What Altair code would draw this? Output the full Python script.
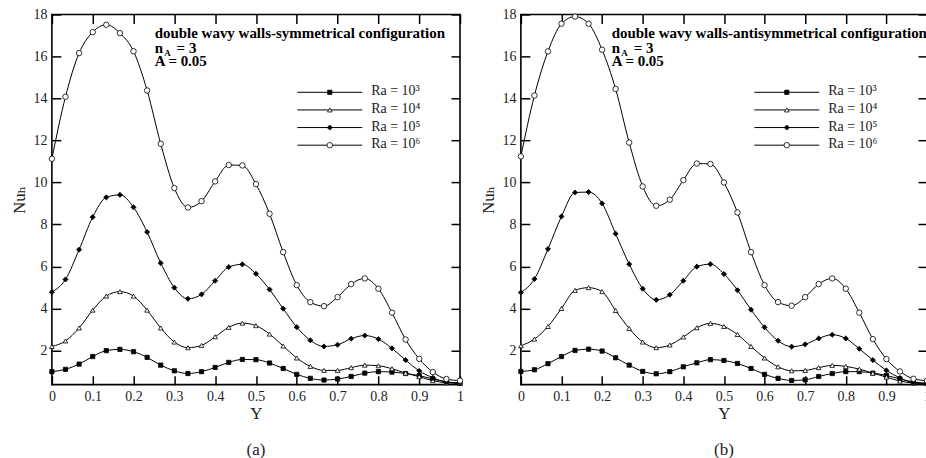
import altair as alt
import pandas as pd

Y_GRID = [0.0, 0.0333, 0.0667, 0.1, 0.1333, 0.1667, 0.2, 0.2333, 0.2667, 0.3, 0.3333,
          0.3667, 0.4, 0.4333, 0.4667, 0.5, 0.5333, 0.5667, 0.6, 0.6333, 0.6667,
          0.7, 0.7333, 0.7667, 0.8, 0.8333, 0.8667, 0.9, 0.9333, 0.9667, 1.0]

SERIES = ["Ra = 10³", "Ra = 10⁴", "Ra = 10⁵", "Ra = 10⁶"]

# (a) symmetrical configuration
a_ra3 = [0.99, 1.10, 1.35, 1.71, 1.99, 2.05, 1.94, 1.67, 1.30, 1.03, 0.90, 0.99, 1.19, 1.43, 1.57, 1.56,
         1.40, 1.14, 0.86, 0.67, 0.59, 0.64, 0.76, 0.92, 0.99, 0.97, 0.90, 0.80, 0.64, 0.50, 0.43]
a_ra4 = [2.19, 2.45, 3.07, 3.92, 4.59, 4.80, 4.59, 3.92, 3.07, 2.40, 2.13, 2.24, 2.65, 3.10, 3.30, 3.18,
         2.78, 2.21, 1.64, 1.24, 1.05, 1.05, 1.18, 1.30, 1.27, 1.13, 0.92, 0.75, 0.56, 0.46, 0.43]
a_ra5 = [4.78, 5.38, 6.80, 8.35, 9.29, 9.41, 8.82, 7.64, 6.16, 4.99, 4.46, 4.67, 5.32, 5.97, 6.10, 5.65,
         4.90, 3.99, 3.11, 2.48, 2.19, 2.27, 2.56, 2.71, 2.54, 2.10, 1.54, 1.03, 0.70, 0.50, 0.46]
a_ra6 = [11.13, 14.08, 16.16, 17.16, 17.51, 17.11, 16.25, 14.38, 11.84, 9.73, 8.81, 9.11, 10.05, 10.83,
         10.81, 9.92, 8.51, 6.68, 5.11, 4.30, 4.11, 4.54, 5.16, 5.43, 4.94, 3.80, 2.52, 1.60, 0.97, 0.64, 0.56]

# (b) antisymmetrical configuration
b_ra3 = [1.00, 1.08, 1.37, 1.71, 2.00, 2.06, 1.97, 1.65, 1.30, 1.00, 0.89, 0.99, 1.22, 1.41, 1.56, 1.52,
         1.38, 1.14, 0.86, 0.67, 0.57, 0.60, 0.76, 0.90, 0.99, 0.99, 0.92, 0.81, 0.64, 0.50, 0.43]
b_ra4 = [2.22, 2.54, 3.14, 4.00, 4.86, 4.99, 4.80, 3.90, 3.05, 2.40, 2.13, 2.26, 2.64, 3.08, 3.29, 3.14,
         2.76, 2.19, 1.64, 1.22, 1.03, 1.05, 1.18, 1.29, 1.24, 1.11, 0.92, 0.73, 0.54, 0.45, 0.42]
b_ra5 = [4.76, 5.40, 6.83, 8.38, 9.52, 9.54, 9.00, 7.56, 6.11, 4.94, 4.41, 4.65, 5.32, 5.99, 6.11, 5.64,
         4.87, 3.94, 3.10, 2.46, 2.18, 2.29, 2.57, 2.75, 2.57, 2.08, 1.54, 1.05, 0.69, 0.46, 0.43]
b_ra6 = [11.24, 14.14, 16.24, 17.56, 17.90, 17.56, 16.32, 14.45, 11.90, 9.81, 8.89, 9.18, 10.11, 10.90,
         10.88, 10.00, 8.57, 6.68, 5.11, 4.30, 4.13, 4.54, 5.16, 5.43, 4.94, 3.80, 2.54, 1.59, 1.00, 0.65, 0.56]

X_TICKS = [0, 0.1, 0.2, 0.3, 0.4, 0.5, 0.6, 0.7, 0.8, 0.9, 1]
Y_TICKS = [2, 4, 6, 8, 10, 12, 14, 16, 18]

FONT = "Times New Roman, Liberation Serif, DejaVu Serif, serif"
TXT = "#222222"

MARK_SHAPES = ["square", "triangle-up", "diamond", "circle"]
MARK_FILLS = ["black", "white", "black", "white"]
MARK_SIZES = [18, 30, 24, 52]

H = 371


def panel(values, heading, caption, width, nx):
    rows = []
    for name, vals in zip(SERIES, values):
        for y, nu in zip(Y_GRID, vals):
            rows.append({"Y": y, "Nu": nu, "series": name})
    df = pd.DataFrame(rows)
    base = alt.Chart(df)
    xs = alt.Scale(domain=[0, 1], nice=False, zero=False)
    ys = alt.Scale(domain=[0.37, 18], nice=False, zero=False)
    shape_s = alt.Scale(domain=SERIES, range=MARK_SHAPES)
    fill_s = alt.Scale(domain=SERIES, range=MARK_FILLS)
    size_s = alt.Scale(domain=SERIES, range=MARK_SIZES)

    lines = base.mark_line(interpolate="monotone", color="black", strokeWidth=1).encode(
        x=alt.X("Y:Q", scale=xs, axis=alt.Axis(
            orient="bottom", values=X_TICKS, format="~g", offset=-9, tickSize=9, tickWidth=1.5,
            tickColor="black", domain=False, grid=False, labelPadding=5, labelFlush=False,
            labelFont=FONT, labelFontSize=14, labelColor=TXT, title="Y", titleFont=FONT,
            titleFontSize=17, titleFontWeight="normal", titleColor=TXT, titlePadding=2)),
        y=alt.Y("Nu:Q", scale=ys, axis=alt.Axis(
            orient="left", values=Y_TICKS, format="d", offset=-9, tickSize=9, tickWidth=1.5,
            tickColor="black", domain=False, grid=False, labelPadding=5, labelFont=FONT,
            labelFontSize=14, labelColor=TXT, title="Nuₕ", titleFont=FONT, titleFontSize=17,
            titleFontWeight="normal", titleColor=TXT, titlePadding=4)),
        detail="series:N",
    )

    points = base.mark_point(stroke="black", strokeWidth=0.8, opacity=1).encode(
        x=alt.X("Y:Q", scale=xs, axis=alt.Axis(
            orient="top", values=X_TICKS, offset=-9, tickSize=9, tickWidth=1.5, tickColor="black",
            domain=False, grid=False, labels=False, title=None)),
        y=alt.Y("Nu:Q", scale=ys, axis=alt.Axis(
            orient="right", values=Y_TICKS, offset=-9, tickSize=9, tickWidth=1.5, tickColor="black",
            domain=False, grid=False, labels=False, title=None)),
        shape=alt.Shape("series:N", scale=shape_s, legend=None),
        fill=alt.Fill("series:N", scale=fill_s, legend=None),
        size=alt.Size("series:N", scale=size_s, legend=None),
    )

    # legend drawn inside the plot
    leg_df = pd.DataFrame({"series": SERIES})
    leg_y = alt.Y("series:N", scale=alt.Scale(type="point", domain=SERIES, range=[78, 131], padding=0),
                  axis=None)
    leg_base = alt.Chart(leg_df)
    lx = nx + 143
    leg_rule = leg_base.mark_rule(color="black", strokeWidth=1).encode(
        x=alt.value(lx), x2=alt.value(lx + 65), y=leg_y)
    leg_pts = leg_base.mark_point(stroke="black", strokeWidth=0.8, opacity=1).encode(
        x=alt.value(lx + 32.5), y=leg_y,
        shape=alt.Shape("series:N", scale=shape_s, legend=None),
        fill=alt.Fill("series:N", scale=fill_s, legend=None),
        size=alt.Size("series:N", scale=size_s, legend=None),
    )
    leg_txt = leg_base.mark_text(align="left", baseline="middle", font=FONT, fontSize=14,
                                 color=TXT, dy=-1).encode(
        x=alt.value(lx + 74), y=leg_y, text="series:N")

    def note(text, px, py, size=15):
        return alt.Chart(pd.DataFrame({"t": [text]})).mark_text(
            align="left", baseline="alphabetic", font=FONT, fontSize=size, fontWeight="bold", color="black"
        ).encode(x=alt.value(px), y=alt.value(py), text="t:N")

    notes = [note(heading, nx, 23.5), note("n", nx, 38.5), note("A", nx + 9.5, 41.5, 9),
             note("= 3", nx + 22, 38.5), note("A = 0.05", nx, 52)]

    layered = alt.layer(lines, points, leg_rule, leg_pts, leg_txt, *notes).resolve_scale(
        y="independent"
    ).resolve_axis(x="independent", y="independent").properties(
        width=width, height=H,
        title=alt.TitleParams(caption, orient="bottom", font=FONT, fontSize=17, fontWeight="normal",
                              color=TXT, offset=20),
    )
    return layered


pa = panel([a_ra3, a_ra4, a_ra5, a_ra6], "double wavy walls-symmetrical configuration", "(a)", 409, 103)
pb = panel([b_ra3, b_ra4, b_ra5, b_ra6], "double wavy walls-antisymmetrical configuration", "(b)", 407, 91)

chart = alt.hconcat(pa, pb, spacing=13).properties(
    padding={"left": 10, "top": 6, "right": -7, "bottom": 0}
).configure_view(stroke="black", strokeWidth=1.6)

chart.save("out.html", embed_options={"renderer": "svg", "actions": False})
